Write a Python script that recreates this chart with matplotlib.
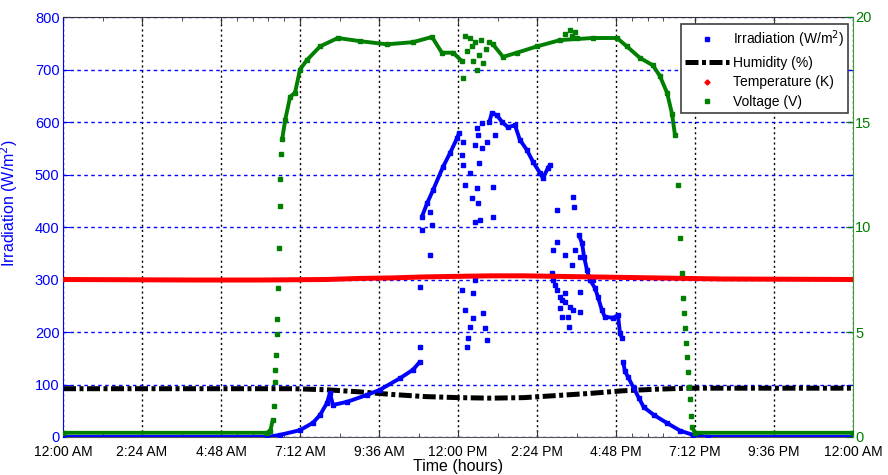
import numpy as np
import matplotlib.pyplot as plt
from matplotlib.lines import Line2D

plt.rcParams['font.family'] = ['Liberation Sans', 'DejaVu Sans']

BLUE = '#0000ff'
GREEN = '#007f00'
RED = '#ff0000'

# time of day in hours (0 = midnight)
irr_morning_t = [0, 6.20, 6.59, 7.20, 7.59, 7.81, 8.02, 8.11, 8.20, 8.63, 9.23, 9.63, 10.24, 10.63, 10.84]
irr_morning_v = [0, 0, 4, 13, 27, 42, 65, 84, 61, 67, 80, 90, 112, 128, 143]
irr_noon_t = [10.90, 11.06, 11.24, 11.54, 11.76, 11.97, 12.03]
irr_noon_v = [419, 445, 470, 514, 541, 569, 579]
irr_peak_t = [12.95, 13.03, 13.18, 13.34, 13.52, 13.73, 13.88, 14.09, 14.28, 14.49, 14.58, 14.73, 14.79]
irr_peak_v = [600, 617, 613, 600, 590, 594, 566, 547, 524, 503, 493, 512, 518]
irr_evening_t = [15.67, 15.77, 15.83, 15.92, 16.01, 16.16, 16.25, 16.37, 16.46, 16.71, 16.86, 16.92, 16.98,
                 17.02, 17.07, 17.16, 17.34, 17.49, 17.64, 17.95, 18.34, 18.75, 19.14, 19.60, 24]
irr_evening_v = [385, 369, 343, 318, 299, 284, 267, 242, 229, 227, 232, 198, 189,
                 143, 125, 115, 93, 75, 57, 42, 27, 12, 4, 0, 0]
# cloudy spells: isolated readings
irr_scatter_t = [10.84, 10.84, 10.90, 11.15, 11.15, 11.20,
                 12.11, 12.15, 12.15, 12.21, 12.36, 12.42, 12.52, 12.52, 12.52, 12.58, 12.58, 12.61, 12.61,
                 12.64, 12.67, 12.73, 12.73, 12.88, 13.06, 13.06, 13.12,
                 12.12, 12.21, 12.27, 12.30, 12.36, 12.45, 12.45, 12.76, 12.82, 12.88,
                 14.85, 14.89, 14.89, 14.95, 15.01, 15.01, 15.01, 15.10, 15.10, 15.16, 15.16, 15.25, 15.25,
                 15.25, 15.34, 15.37, 15.40, 15.46, 15.49, 15.49, 15.52, 15.55, 15.70, 15.70, 15.70, 16.10]
irr_scatter_v = [286, 171, 394, 429, 347, 404,
                 537, 562, 518, 480, 503, 455, 410, 556, 299, 474, 589, 445, 575,
                 522, 413, 598, 550, 562, 419, 476, 575,
                 280, 242, 171, 189, 210, 274, 227, 236, 208, 185,
                 312, 356, 299, 290, 432, 371, 280, 246, 267, 261, 229, 347, 257,
                 274, 229, 210, 248, 328, 457, 242, 438, 356, 343, 276, 238, 299]

hum_t = [0, 3, 6, 7, 8, 9, 10, 11, 12, 13, 14, 15, 16, 17, 18, 19, 21, 24]
hum_v = [92, 92, 92, 92, 90, 86, 81, 77, 75, 74, 75, 79, 83, 88, 91, 93, 93, 93]

temp_t = [0, 4, 6, 8, 9, 10, 11, 12, 13, 14, 15, 16, 17, 18, 20, 24]
temp_v = [300, 299, 299, 300, 302, 303, 305, 306, 307, 307, 306, 305, 304, 303, 301, 300]

volt_am_t = [0, 6.20, 6.30, 6.37, 6.40, 6.43, 6.45, 6.47, 6.49, 6.51, 6.54, 6.56, 6.58, 6.60, 6.63, 6.66,
             6.75, 6.90, 7.05, 7.20, 7.41, 7.81, 8.35, 9.02, 9.84, 10.63, 11.21, 11.51, 11.85, 12.12]
volt_am_v = [0.2, 0.2, 0.3, 0.8, 1.5, 2.6, 3.2, 3.9, 4.9, 5.6, 7.1, 9.0, 11.0, 12.3, 13.5, 14.2,
             15.1, 16.2, 16.4, 17.5, 17.95, 18.6, 19.0, 18.85, 18.7, 18.8, 19.05, 18.3, 18.3, 17.9]
volt_pm_t = [13.06, 13.37, 13.79, 14.40, 15.10, 16.10, 16.83, 17.13, 17.53, 17.92, 18.13, 18.35, 18.50,
             18.59, 18.68, 18.74, 18.80, 18.83, 18.86, 18.89, 18.92, 18.95, 18.98, 19.01, 19.04, 19.07,
             19.10, 19.20, 24]
volt_pm_v = [18.7, 18.1, 18.3, 18.6, 18.9, 19.0, 19.0, 18.6, 18.05, 17.7, 17.2, 16.4, 15.4,
             14.4, 12.0, 9.5, 7.8, 6.6, 5.9, 5.2, 4.5, 3.8, 3.1, 2.4, 1.8, 1.0,
             0.5, 0.2, 0.2]
volt_scatter_t = [12.15, 12.21, 12.27, 12.36, 12.42, 12.45, 12.52, 12.58, 12.64, 12.70, 12.76, 12.85, 12.94,
                  15.25, 15.40, 15.46, 15.55, 15.62]
volt_scatter_v = [17.1, 19.1, 18.4, 19.0, 18.6, 17.9, 18.8, 17.5, 18.2, 18.9, 17.8, 18.5, 18.8,
                  19.2, 19.4, 19.1, 19.3, 19.0]

tick_labels = ['12:00 AM', '2:24 AM', '4:48 AM', '7:12 AM', '9:36 AM', '12:00 PM',
               '2:24 PM', '4:48 PM', '7:12 PM', '9:36 PM', '12:00 AM']


def trace(ax, t, v, color, max_slope, lw=2.8, ms=2.4, zorder=3):
    # markers on every reading, pen lifted where the value jumps too fast
    t = np.asarray(t, float)
    v = np.asarray(v, float)
    slope = np.abs(np.diff(v) / np.diff(t))
    lt, lv = [t[0]], [v[0]]
    for i, s in enumerate(slope):
        if s > max_slope:
            lt.append(np.nan)
            lv.append(np.nan)
        lt.append(t[i + 1])
        lv.append(v[i + 1])
    ax.plot(lt, lv, color=color, lw=lw, solid_capstyle='butt', zorder=zorder)
    ax.plot(t, v, ls='none', marker='s', ms=ms, color=color, mec=color, zorder=zorder)


fig = plt.figure(figsize=(8.88, 4.75), dpi=100)
ax = fig.add_axes([63 / 888, 38 / 475, 790 / 888, 420 / 475])
ax2 = ax.twinx()

# humidity and temperature share the irradiation scale
ax.plot(hum_t, hum_v, color='k', lw=3.6, ls=(0, (2.6, 0.7, 0.8, 0.7)),
        dash_capstyle='butt', zorder=2)
for seg_t, seg_v in [(irr_morning_t, irr_morning_v), (irr_noon_t, irr_noon_v),
                     (irr_peak_t, irr_peak_v), (irr_evening_t, irr_evening_v)]:
    trace(ax, seg_t, seg_v, BLUE, 600)
ax.plot(irr_scatter_t, irr_scatter_v, ls='none', marker='s', ms=2.6, color=BLUE, zorder=3)
ax.plot(temp_t, temp_v, color=RED, lw=3.6, zorder=4)

trace(ax2, volt_am_t, volt_am_v, GREEN, 12)
trace(ax2, volt_pm_t, volt_pm_v, GREEN, 12)
ax2.plot(volt_scatter_t, volt_scatter_v, ls='none', marker='s', ms=2.6, color=GREEN)

ax.set_xlim(0, 24)
ax.set_ylim(0, 800)
ax2.set_ylim(0, 20)

ax.set_xticks(np.arange(len(tick_labels)) * 2.4)
ax.set_xticklabels(tick_labels, fontsize=10)
ax.set_xticks([1.2, 3.6, 5.28, 5.76, 6.24, 6.72, 8.4, 10.8, 13.2, 15.6, 17.28, 17.76, 18.24], minor=True)
ax.set_yticks(np.arange(0, 801, 100))
ax.tick_params(axis='y', labelsize=10.5)
ax2.set_yticks(np.arange(0, 21, 5))
ax2.tick_params(axis='y', labelsize=10.5)

ax.tick_params(axis='x', which='both', direction='in', top=True, bottom=True,
               color='#333333', pad=5.5)
ax.tick_params(axis='x', which='major', length=5)
ax.tick_params(axis='x', which='minor', length=3)
ax.tick_params(axis='y', direction='in', right=True, colors=BLUE, length=5, pad=2.5)
ax2.tick_params(axis='y', direction='in', colors=GREEN, length=5, pad=1.5)

ax.xaxis.grid(True, color='k', ls=(0, (1.5, 2.2)), lw=1.0)
ax.yaxis.grid(True, color=BLUE, ls=(0, (2.5, 2.5)), lw=1.0)
ax.set_axisbelow(True)

ax.spines['left'].set_color(BLUE)
ax.spines['right'].set_visible(False)
ax.spines['top'].set_color('#333333')
ax.spines['bottom'].set_color('#555555')
for side in ['left', 'top', 'bottom']:
    ax2.spines[side].set_visible(False)
ax2.spines['right'].set_color('#3a9a3a')

ax.set_ylabel('Irradiation (W/m$^2$)', color=BLUE, fontsize=11.5)
ax.yaxis.set_label_coords(-0.054, 0.557)
ax.set_xlabel('Time (hours)', fontsize=11.5, labelpad=0)

handles = [
    Line2D([], [], ls='none', marker='s', ms=2.6, color=BLUE),
    Line2D([], [], color='k', lw=3.6, ls=(0, (2.6, 0.7, 0.8, 0.7)), dash_capstyle='butt'),
    Line2D([], [], ls='none', marker='D', ms=2.6, color=RED),
    Line2D([], [], ls='none', marker='s', ms=2.6, color=GREEN),
]
labels = ['Irradiation (W/m$^2$)', 'Humidity (%)', 'Temperature (K)', 'Voltage (V)']
leg = ax2.legend(handles, labels, loc='upper right', bbox_to_anchor=(0.9937, 0.9833),
                 borderaxespad=0, fancybox=False, framealpha=1, edgecolor='#404040',
                 fontsize=10, handlelength=3.2, handletextpad=0.25, labelspacing=0.42,
                 borderpad=0.3)
leg.get_frame().set_linewidth(1.2)

fig.savefig('out.png', dpi=100)
